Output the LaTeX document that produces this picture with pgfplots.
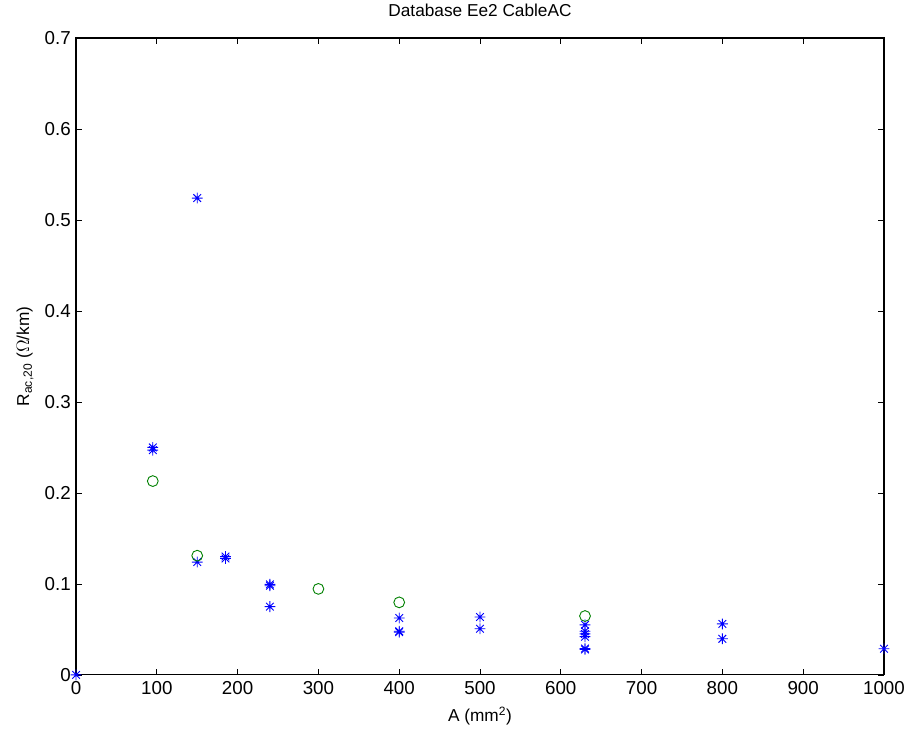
\documentclass[border=0pt]{standalone}
\usepackage{fontspec}
\setmainfont{Liberation Sans}
\usepackage{pgfplots}
\pgfplotsset{compat=1.18}
\definecolor{mblue}{rgb}{0,0,1}
\definecolor{mgreen}{rgb}{0,0.5,0}
\pgfdeclareplotmark{star8}{%
  \pgfpathmoveto{\pgfqpoint{-\pgfplotmarksize}{0pt}}\pgfpathlineto{\pgfqpoint{\pgfplotmarksize}{0pt}}%
  \pgfpathmoveto{\pgfqpoint{0pt}{-\pgfplotmarksize}}\pgfpathlineto{\pgfqpoint{0pt}{\pgfplotmarksize}}%
  \pgfpathmoveto{\pgfqpoint{-0.707\pgfplotmarksize}{-0.707\pgfplotmarksize}}\pgfpathlineto{\pgfqpoint{0.707\pgfplotmarksize}{0.707\pgfplotmarksize}}%
  \pgfpathmoveto{\pgfqpoint{-0.707\pgfplotmarksize}{0.707\pgfplotmarksize}}\pgfpathlineto{\pgfqpoint{0.707\pgfplotmarksize}{-0.707\pgfplotmarksize}}%
  \pgfusepathqstroke}
\begin{document}
\begin{tikzpicture}
\path[use as bounding box] (-50.7pt,-37.3pt) rectangle (555.4pt,450pt);
\begin{axis}[
  at={(0pt,0pt)}, anchor=south west,
  scale only axis,
  width=538.7pt, height=424.7pt,
  xmin=0, xmax=1000, ymin=0, ymax=0.7,
  xtick={0,100,...,1000},
  ytick={0,0.1,0.2,0.3,0.4,0.5,0.6,0.7},
  tick align=inside,
  major tick length=4pt,
  tick style={black, line width=0.5pt},
  axis line style={black, line width=0.8pt},
  every tick label/.append style={font=\fontsize{12.5}{14}\selectfont},
  xticklabel style={yshift=-1pt},
  /pgf/number format/assume math mode=true,
  yticklabel style={/pgf/number format/fixed, /pgf/number format/precision=1},
  xticklabel style={/pgf/number format/fixed, /pgf/number format/1000 sep={}},
  scaled y ticks=false,
  title={Database Ee2 CableAC},
  every axis title/.style={font=\fontsize{11.5}{13}\selectfont, at={(axis description cs:0.5,1.044)}, anchor=center},
  xlabel={A (mm\textsuperscript{2})},
  ylabel={R\textsubscript{ac,20} ($\Omega$/km)},
  xlabel style={font=\fontsize{11.5}{13}\selectfont, at={(axis description cs:0.5,-0.065)}, anchor=center},
  ylabel style={font=\fontsize{11.5}{13}\selectfont, at={(axis description cs:-0.0631,0.5)}, anchor=center, rotate=0},
  clip=false,
]
\addplot[only marks, mark=star8, mark size=3.6pt, color=mblue, mark options={line width=0.6pt}] coordinates {
(0,0)
(95,0.247) (95,0.250)
(150,0.524) (150,0.124)
(185,0.128) (185,0.130)
(240,0.098) (240,0.0995) (240,0.075)
(400,0.0625) (400,0.047) (400,0.048)
(500,0.0636) (500,0.0507)
(630,0.055) (630,0.048) (630,0.045) (630,0.042) (630,0.029) (630,0.028)
(800,0.056) (800,0.0397)
(1000,0.0287)
};
\addplot[only marks, mark=o, mark size=3.6pt, color=mgreen, mark options={line width=0.6pt}] coordinates {
(95,0.213) (150,0.131) (300,0.0945) (400,0.0797) (630,0.0647)
};
\end{axis}
\end{tikzpicture}
\end{document}
